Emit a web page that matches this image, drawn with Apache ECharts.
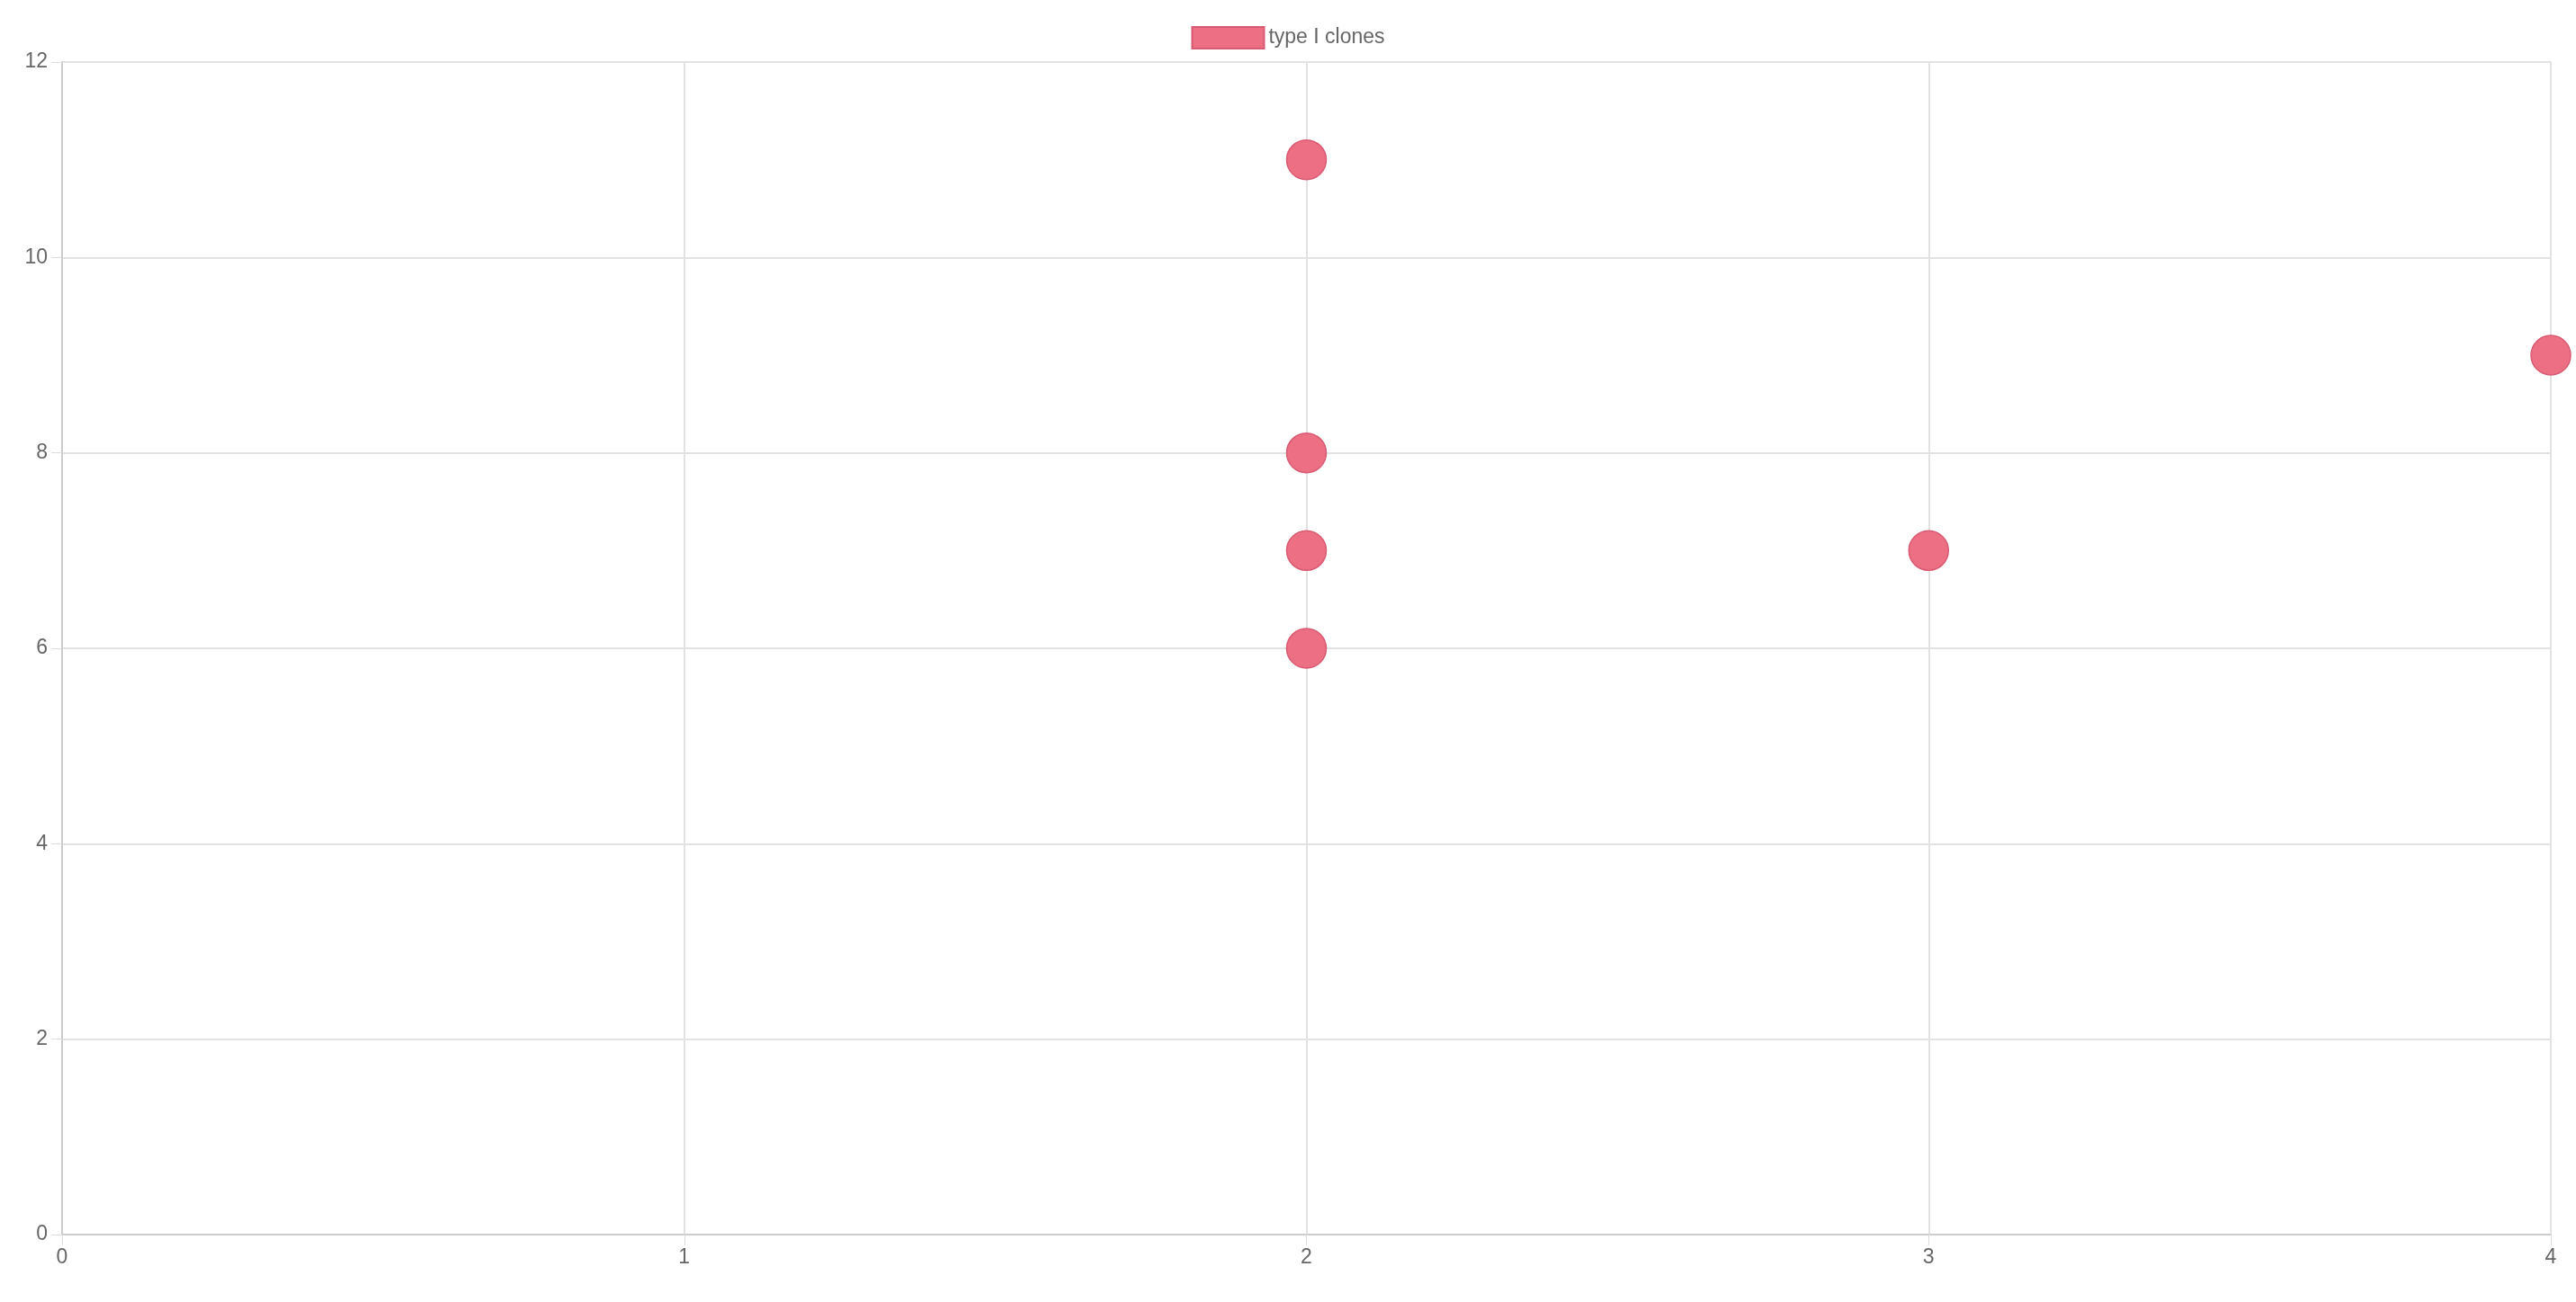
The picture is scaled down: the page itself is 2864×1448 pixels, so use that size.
<!DOCTYPE html>
<html><head><meta charset="utf-8">
<script src="https://cdn.jsdelivr.net/npm/echarts@6/dist/echarts.min.js"></script>
<style>html,body{margin:0;padding:0;background:#fff}#c{width:2864px;height:1448px}</style>
</head><body><div id="c"></div>
<script>
const seriesName = 'type I clones';
const xValues = [2, 2, 2, 2, 3, 4];
const yValues = [11, 8, 7, 6, 7, 9];
const points = xValues.map((x, i) => [x, yValues[i]]);
const chart = echarts.init(document.getElementById('c'));
const font = '"Helvetica Neue", Helvetica, Arial, sans-serif';
chart.setOption({
  animation: false,
  legend: {
    top: 24, left: 'center', itemWidth: 80, itemHeight: 24, icon: 'rect',
    textStyle: {fontSize: 23, color: '#666', fontFamily: font},
    data: [seriesName]
  },
  grid: {left: 69, right: 28, top: 69, bottom: 75},
  xAxis: {
    type: 'value', min: 0, max: 4, interval: 1,
    axisLine: {show: true, lineStyle: {color: '#ccc', width: 2}},
    axisTick: {show: true, length: 12, lineStyle: {color: '#ddd'}},
    splitLine: {show: true, lineStyle: {color: '#e2e2e2', width: 2}},
    axisLabel: {fontSize: 23, color: '#666', margin: 14, fontFamily: font}
  },
  yAxis: {
    type: 'value', min: 0, max: 12, interval: 2,
    axisLine: {show: true, lineStyle: {color: '#ccc', width: 2}},
    axisTick: {show: true, length: 12, lineStyle: {color: '#ddd'}},
    splitLine: {show: true, lineStyle: {color: '#e2e2e2', width: 2}},
    axisLabel: {fontSize: 23, color: '#666', margin: 16, fontFamily: font}
  },
  series: [{
    name: seriesName, type: 'scatter', data: points, symbolSize: 44,
    itemStyle: {color: '#ec6f84', borderColor: '#d85a72', borderWidth: 1.5, opacity: 1}
  }]
});
</script></body></html>
